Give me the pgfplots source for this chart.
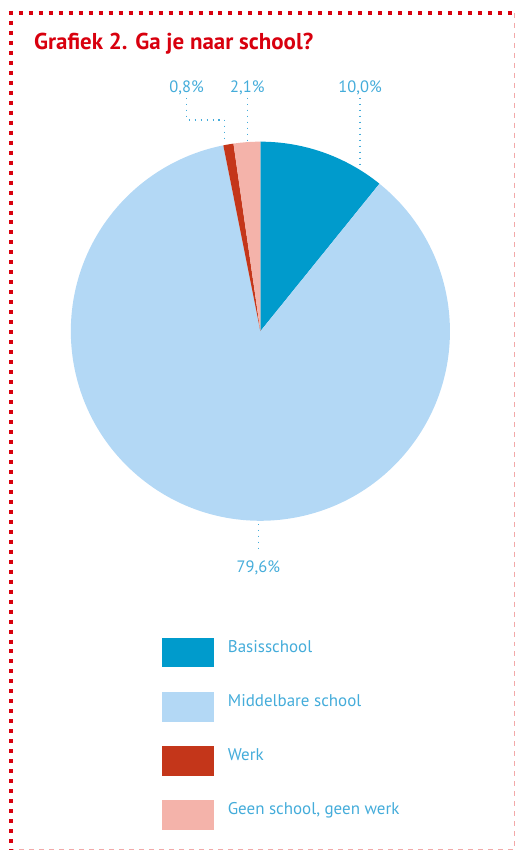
\documentclass[border=0pt]{standalone}
\usepackage{fontspec}
\setmainfont{PT Sans}
\usepackage{pgfplots}
\usepackage{pgfplotstable}
\pgfplotsset{compat=1.18}

\definecolor{basis}{HTML}{009BCC}
\definecolor{middel}{HTML}{B3D8F5}
\definecolor{werk}{HTML}{C4361A}
\definecolor{geen}{HTML}{F4B3AA}
\definecolor{lblue}{HTML}{44ACDA}
\definecolor{titlered}{HTML}{D8000E}
\definecolor{framepink}{HTML}{F2A9A9}

\pgfplotstableread[col sep=semicolon]{
category;value
Basisschool;10.0
Middelbare school;79.6
Werk;0.8
Geen school, geen werk;2.1
}\piedata

% shares of the pie, turned into angles (clockwise from 12 o'clock)
\pgfplotstablegetelem{0}{value}\of\piedata\let\vA\pgfplotsretval
\pgfplotstablegetelem{1}{value}\of\piedata\let\vB\pgfplotsretval
\pgfplotstablegetelem{2}{value}\of\piedata\let\vC\pgfplotsretval
\pgfplotstablegetelem{3}{value}\of\piedata\let\vD\pgfplotsretval
\pgfmathsetmacro\total{\vA+\vB+\vC+\vD}
\pgfmathsetmacro\aA{90}
\pgfmathsetmacro\aB{\aA-360*(\vA/\total)}
\pgfmathsetmacro\aC{\aB-360*(\vB/\total)}
\pgfmathsetmacro\aD{\aC-360*(\vC/\total)}
\pgfmathsetmacro\aE{\aD-360*(\vD/\total)}
\newcommand\pct[1]{\pgfmathprintnumber[fixed,fixed zerofill,precision=1,use comma,assume math mode=true]{#1}\%}

\begin{document}
\begin{tikzpicture}
\begin{axis}[
    x=1bp, y=1bp, y dir=reverse,
    xmin=0, xmax=517, ymin=0, ymax=852,
    scale only axis, hide axis, clip=false,
    legend style={
        at={(axis cs:162,639)}, anchor=north west,
        draw=none, fill=none, inner sep=0pt, outer sep=0pt,
        row sep=25bp, column sep=13bp,
        font=\fontsize{17bp}{21bp}\selectfont, text=lblue,
        cells={anchor=base west, inner sep=0pt},
    },
    legend image code/.code={\fill[#1] (0bp,-14.5bp) rectangle (51bp,14.5bp);},
]
\path (axis cs:0,0) rectangle (axis cs:517,852);

% frame
\draw[framepink, line width=1bp, dash pattern=on 5bp off 5bp]
    (axis cs:516,13) -- (axis cs:516,851) -- (axis cs:11,851);
\draw[titlered, line width=4bp, dash pattern=on 4bp off 6bp]
    (axis cs:11,11) -- (axis cs:11,852);
\draw[titlered, line width=4bp, dash pattern=on 4bp off 6bp]
    (axis cs:9,13) -- (axis cs:517,13);

\node[anchor=base west, inner sep=0pt, text=titlered,
      font=\bfseries\fontsize{23bp}{27bp}\selectfont]
    at (axis cs:34,50) {Grafiek 2. Ga je naar school?};

% pie
\fill[basis]  (axis cs:261,332) -- ++(\aA:190bp) arc[start angle=\aA, end angle=\aB, radius=190bp] -- cycle;
\fill[middel] (axis cs:261,332) -- ++(\aB:190bp) arc[start angle=\aB, end angle=\aC, radius=190bp] -- cycle;
\fill[werk]   (axis cs:261,332) -- ++(\aC:190bp) arc[start angle=\aC, end angle=\aD, radius=190bp] -- cycle;
\fill[geen]   (axis cs:261,332) -- ++(\aD:190bp) arc[start angle=\aD, end angle=\aE, radius=190bp] -- cycle;

% leader lines and value labels
\begin{scope}[lblue, line width=1.7bp, dash pattern=on 1.7bp off 4.3bp]
\draw (axis cs:361,98) -- (axis cs:361,167);
\draw (axis cs:248,98) -- (axis cs:248,141);
\draw (axis cs:187,98) -- (axis cs:187,120) -- (axis cs:225,120) -- (axis cs:225,142);
\draw (axis cs:259,525) -- (axis cs:259,553);
\end{scope}
\begin{scope}[every node/.style={anchor=base, inner sep=0pt, text=lblue, font=\fontsize{16.5bp}{20bp}\selectfont}]
\node at (axis cs:361,93) {\pct{\vA}};
\node at (axis cs:259,574) {\pct{\vB}};
\node at (axis cs:187,93) {\pct{\vC}};
\node at (axis cs:248,93) {\pct{\vD}};
\end{scope}

\addlegendimage{basis}
\addlegendentry{Basisschool}
\addlegendimage{middel}
\addlegendentry{Middelbare school}
\addlegendimage{werk}
\addlegendentry{Werk}
\addlegendimage{geen}
\addlegendentry{Geen school, geen werk}
\end{axis}
\end{tikzpicture}
\end{document}
